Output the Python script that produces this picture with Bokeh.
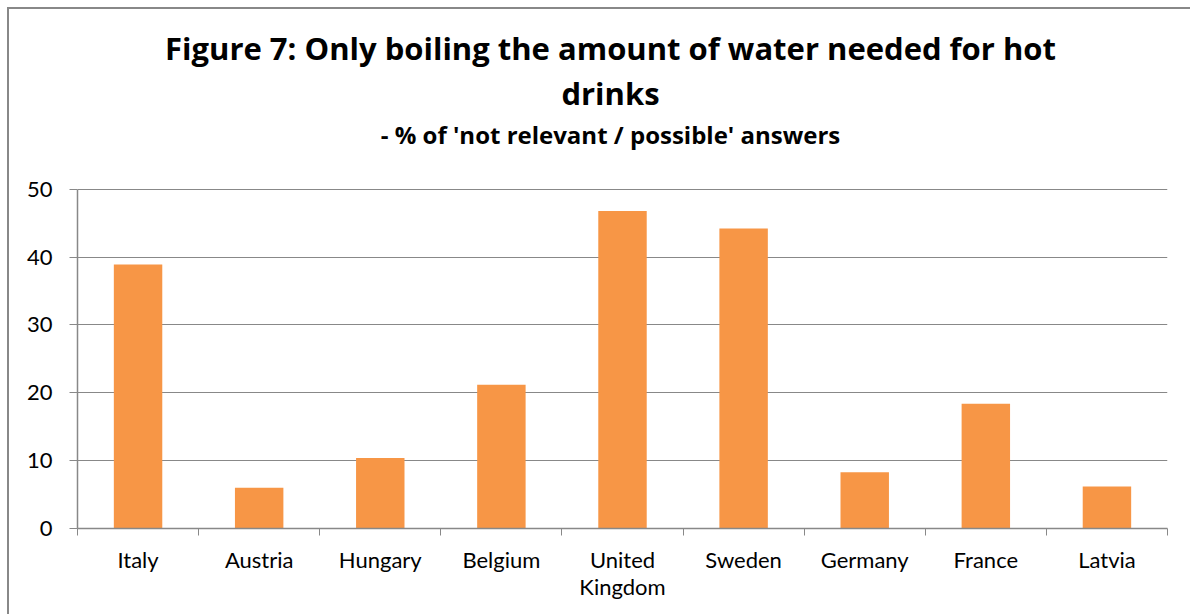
from bokeh.plotting import figure
from bokeh.models import Range1d, FixedTicker, Label, ColumnDataSource
from bokeh.embed import file_html
from bokeh.resources import INLINE

# Survey data: share of 'not relevant / possible' answers per country (%)
countries = ["Italy", "Austria", "Hungary", "Belgium", "United\nKingdom",
             "Sweden", "Germany", "France", "Latvia"]
shares = [38.9, 6.0, 10.4, 21.2, 46.8, 44.2, 8.3, 18.4, 6.2]
y_ticks = [0, 10, 20, 30, 40, 50]

title_line1 = "Figure 7: Only boiling the amount of water needed for hot"
title_line2 = "drinks"
subtitle = "- % of 'not relevant / possible' answers"

TICK_FONT = "Lato"
TITLE_FONT = "Open Sans"
GREY = "#888888"
ORANGE = "#F79646"
PX_PER_UNIT = 6.786
FRAME_H = 528

n = len(countries)
centers = [i + 0.5 for i in range(n)]
src = ColumnDataSource(dict(x=centers, top=shares))

# the frame reaches up to the top edge so the headings can live inside it;
# the value axis itself is bounded to 0..50
y_top = FRAME_H / PX_PER_UNIT
p = figure(width=1190, height=614, x_range=Range1d(0, n),
           y_range=Range1d(0, y_top), toolbar_location=None, output_backend="svg",
           min_border_left=77, min_border_right=23,
           min_border_top=0, min_border_bottom=614 - FRAME_H)
p.outline_line_color = None
p.background_fill_color = None
p.border_fill_color = None
# white page with a thin grey rule along the top and left of the chart area
p.styles = {"background-color": "#ffffff",
            "box-shadow": "inset 7px 7px 0 0 #ffffff, inset 9px 9px 0 0 #888888"}

p.vbar(x="x", top="top", width=0.4, source=src, fill_color=ORANGE, line_color=None)

# horizontal gridlines only
p.xgrid.visible = False
p.ygrid.ticker = FixedTicker(ticks=y_ticks)
p.ygrid.grid_line_color = GREY
p.ygrid.grid_line_width = 1

# category axis: labels at bar centres, tick marks between categories
xa = p.xaxis[0]
xa.ticker = FixedTicker(ticks=centers, minor_ticks=list(range(n + 1)))
xa.major_label_overrides = {c: lab for c, lab in zip(centers, countries)}
xa.major_tick_out = 0
xa.major_tick_in = 0
xa.minor_tick_out = 7
xa.minor_tick_in = 0
xa.minor_tick_line_color = GREY
xa.axis_line_color = GREY
xa.axis_line_width = 1.5
xa.major_label_text_font = TICK_FONT
xa.major_label_text_font_size = "22px"
xa.major_label_text_color = "#000000"
xa.major_label_text_line_height = 1.0
xa.major_label_standoff = 10

ya = p.yaxis[0]
ya.ticker = FixedTicker(ticks=y_ticks)
ya.bounds = (0, 50)
ya.major_tick_out = 8
ya.major_tick_in = 0
ya.minor_tick_line_color = None
ya.major_tick_line_color = GREY
ya.axis_line_color = GREY
ya.axis_line_width = 1.5
ya.major_label_text_font = TICK_FONT
ya.major_label_text_font_size = "22px"
ya.major_label_text_color = "#000000"
ya.major_label_standoff = 17

# headings
title_x = (610 - 77) / ((1167 - 77) / n)
for txt, base_px, size in [(title_line1, 47, "31px"),
                           (title_line2, 92.5, "31px"),
                           (subtitle, 133.5, "24px")]:
    p.add_layout(Label(x=title_x, y=(528 - base_px) / PX_PER_UNIT,
                       text=txt, text_align="center", text_baseline="alphabetic",
                       text_font=TITLE_FONT, text_font_style="bold",
                       text_font_size=size, text_color="#000000"))

open("out.html", "w").write(file_html(p, INLINE))
